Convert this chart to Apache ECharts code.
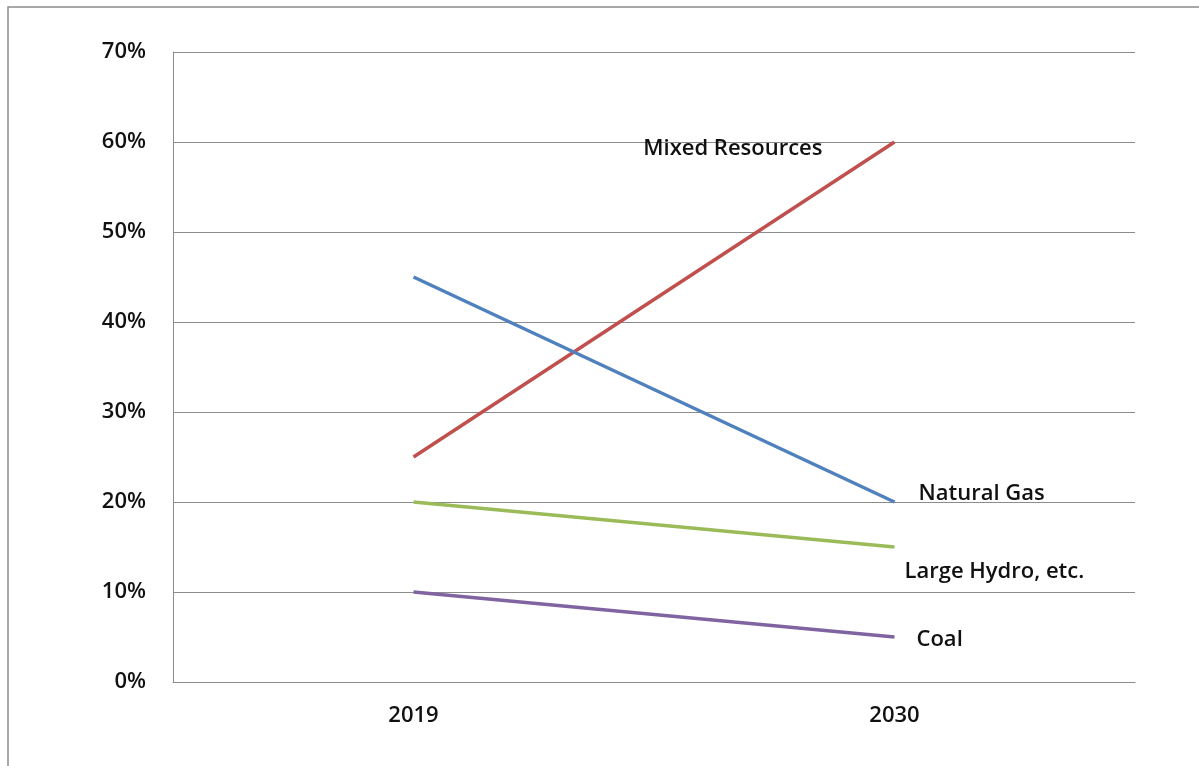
<!DOCTYPE html>
<html>
<head>
<meta charset="utf-8">
<script src="https://cdn.jsdelivr.net/npm/echarts@6/dist/echarts.min.js"></script>
<style>
  html, body { margin: 0; padding: 0; background: #fff; }
  #chart { width: 1199px; height: 766px; }
</style>
</head>
<body>
<div id="chart"></div>
<script>
// Share of generation by resource, 2019 vs 2030
const years = ['2019', '2030'];
const mixedResources = [0.25, 0.60];
const naturalGas = [0.45, 0.20];
const largeHydro = [0.20, 0.15];
const coal = [0.10, 0.05];
const yTicks = [0, 0.1, 0.2, 0.3, 0.4, 0.5, 0.6, 0.7];

const FONT = '"Open Sans", "Liberation Sans", sans-serif';
const TEXT = { color: '#111', fontSize: 22, fontFamily: FONT, fontWeight: 600 };

// Each line carries its name as a label next to its 2030 end
function lineSeries(name, values, color, labelCfg) {
  return {
    name: name,
    type: 'line',
    data: values,
    showSymbol: false,
    lineStyle: { color: color, width: 3.5 },
    itemStyle: { color: color },
    endLabel: Object.assign({ show: true, formatter: name, distance: 0 }, TEXT, labelCfg),
    silent: true,
    animation: false
  };
}

const chart = echarts.init(document.getElementById('chart'));
chart.setOption({
  animation: false,
  backgroundColor: '#fff',
  graphic: [{
    type: 'rect',
    shape: { x: 8, y: 7, width: 1300, height: 900 },
    style: { fill: 'none', stroke: '#8c8c8c', lineWidth: 1.5 },
    silent: true
  }],
  grid: { left: 173, right: 64, top: 52, bottom: 84 },
  xAxis: {
    type: 'category',
    data: years,
    boundaryGap: true,
    axisLine: { lineStyle: { color: '#8c8c8c', width: 1 } },
    axisTick: { show: false },
    axisLabel: Object.assign({ margin: 23 }, TEXT)
  },
  yAxis: {
    type: 'value',
    min: yTicks[0],
    max: yTicks[yTicks.length - 1],
    interval: 0.1,
    axisLine: { show: true, lineStyle: { color: '#8c8c8c', width: 1 } },
    axisTick: { show: false },
    splitLine: { lineStyle: { color: '#8c8c8c', width: 1 } },
    axisLabel: Object.assign({
      margin: 27,
      formatter: v => Math.round(v * 100) + '%'
    }, TEXT)
  },
  series: [
    lineSeries('Mixed Resources', mixedResources, '#C0504D', { align: 'right', offset: [-72, 7] }),
    lineSeries('Natural Gas', naturalGas, '#4F81BD', { align: 'left', offset: [24, -8] }),
    lineSeries('Large Hydro, etc.', largeHydro, '#9BBB59', { align: 'left', offset: [10, 25] }),
    lineSeries('Coal', coal, '#8064A2', { align: 'left', offset: [22, 3] })
  ]
});
</script>
</body>
</html>
